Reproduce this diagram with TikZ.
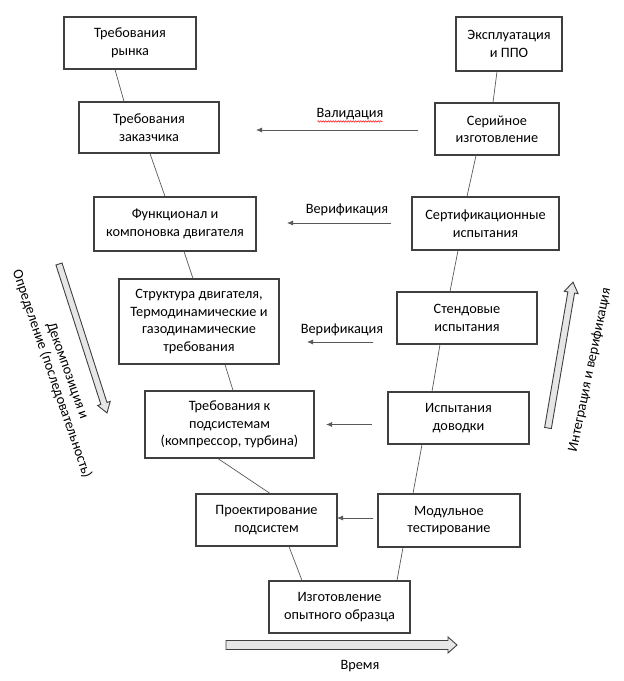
\documentclass[tikz,border=0pt]{standalone}
\usepackage{fontspec}
\setmainfont{Carlito}
\usetikzlibrary{arrows.meta,calc,decorations.pathmorphing}
\definecolor{boxline}{HTML}{3F3F3F}
\definecolor{conn}{HTML}{595959}
\definecolor{barfill}{HTML}{E6E6E6}
\begin{document}
\begin{tikzpicture}[x=1pt,y=1pt,
  every node/.style={font=\fontsize{14.3}{17.5}\selectfont, text=black},
  box/.style={draw=boxline, line width=1.2pt, fill=white, align=center, inner sep=1pt},
  link/.style={draw=conn, line width=0.7pt},
  flow/.style={draw=conn, line width=0.8pt, -{Latex[length=6pt,width=5pt]}},
  lbl/.style={inner sep=0pt},
  barrow/.style={draw=boxline, line width=0.9pt, fill=barfill, line join=miter}
]
\useasboundingbox (0,0) rectangle (624,-681);

% left column
\node[box, minimum width=132, minimum height=52] (L1) at (130,-43) {Требования\\рынка};
\node[box, minimum width=140, minimum height=51] (L2) at (149,-127.5) {Требования\\заказчика};
\node[box, minimum width=162, minimum height=54] (L3) at (175,-224) {Функционал и\\компоновка двигателя};
\node[box, minimum width=160, minimum height=85] (L4) at (199,-321.5) {Структура двигателя,\\Термодинамические и\\газодинамические\\требования};
\node[box, minimum width=169, minimum height=67] (L5) at (229.5,-424.5) {Требования к\\подсистемам\\(компрессор, турбина)};
\node[box, minimum width=141, minimum height=52] (L6) at (266.5,-520) {Проектирование\\подсистем};
\node[box, minimum width=141, minimum height=52] (B) at (339.5,-607) {Изготовление\\опытного образца};

% right column
\node[box, minimum width=106, minimum height=54] (R1) at (509,-44) {Эксплуатация\\и ППО};
\node[box, minimum width=124, minimum height=52] (R2) at (497,-129) {Серийное\\изготовление};
\node[box, minimum width=147, minimum height=53] (R3) at (485.5,-223.5) {Сертификационные\\испытания};
\node[box, minimum width=140, minimum height=52] (R4) at (467,-318) {Стендовые\\испытания};
\node[box, minimum width=141, minimum height=52] (R5) at (458.5,-418) {Испытания\\доводки};
\node[box, minimum width=142, minimum height=53] (R6) at (449,-520.5) {Модульное\\тестирование};

% V links
\draw[link] ([xshift=-15pt]L1.south) -- ([xshift=-25pt]L2.north);
\draw[link] ([xshift=1pt]L2.south) -- ([xshift=-10pt]L3.north);
\draw[link] ([xshift=9pt]L3.south) -- ([xshift=-6pt]L4.north);
\draw[link] ([xshift=26pt]L4.south) -- ([xshift=3.5pt]L5.north);
\draw[link] ([xshift=-11.5pt]L5.south) -- ([xshift=3.5pt]L6.north);
\draw[link] ([xshift=22.5pt]L6.south) -- ([xshift=-37.5pt]B.north);
\draw[link] ([xshift=-12pt]R1.south) -- ([xshift=-4pt]R2.north);
\draw[link] ([xshift=-21pt]R2.south) -- ([xshift=-18.5pt]R3.north);
\draw[link] ([xshift=-27.5pt]R3.south) -- ([xshift=-17pt]R4.north);
\draw[link] ([xshift=-27pt]R4.south) -- ([xshift=-26.5pt]R5.north);
\draw[link] ([xshift=-36.5pt]R5.south) -- ([xshift=-36pt]R6.north);
\draw[link] ([xshift=-46pt]R6.south) -- ([xshift=57.5pt]B.north);

% horizontal arrows
\coordinate (v1s) at (418,-130); \coordinate (v1e) at (256,-130);
\coordinate (v2s) at (391,-223); \coordinate (v2e) at (287,-223);
\coordinate (v3s) at (373,-342); \coordinate (v3e) at (307,-342);
\coordinate (v4s) at (372,-424.5); \coordinate (v4e) at (326,-424.5);
\coordinate (v5s) at (373,-518); \coordinate (v5e) at (337,-518);
\draw[flow] (v1s) -- (v1e);
\draw[flow] (v2s) -- (v2e);
\draw[flow] (v3s) -- (v3e);
\draw[flow] (v4s) -- (v4e);
\draw[flow] (v5s) -- (v5e);

\node[lbl] (val) at (350,-114) {Валидация};
\draw[red, line width=0.5pt, decorate, decoration={snake, amplitude=0.7pt, segment length=2.5pt}]
  ([xshift=1pt,yshift=-1.5pt]val.south west) -- ([xshift=-1pt,yshift=-1.5pt]val.south east);
\node[lbl] (ver1) at (347,-210) {Верификация};
\node[lbl] (ver2) at (342,-330) {Верификация};
\node[lbl] (time) at (360,-666) {Время};

% block arrows
\coordinate (la) at (59,-264);
\begin{scope}[shift={(la)}, rotate=-72.14]
  \draw[barrow] (0,3.2) -- (146.5,3.2) -- (146.5,6.6) -- (156.5,0) -- (146.5,-6.6) -- (146.5,-3.2) -- (0,-3.2) -- cycle;
\end{scope}
\coordinate (ra) at (548,-428);
\begin{scope}[shift={(ra)}, rotate=80.28]
  \draw[barrow] (0,3.4) -- (137.5,3.4) -- (137.5,7) -- (148,0) -- (137.5,-7) -- (137.5,-3.4) -- (0,-3.4) -- cycle;
\end{scope}
\coordinate (ba) at (226,-645);
\begin{scope}[shift={(ba)}]
  \draw[barrow] (0,4.5) -- (222,4.5) -- (222,8) -- (231,0) -- (222,-8) -- (222,-4.5) -- (0,-4.5) -- cycle;
\end{scope}

% rotated labels
\node[lbl, rotate=-70.5] (dec1) at (67,-371) {Декомпозиция и};
\node[lbl, rotate=-71] (dec2) at (52,-374) {Определение (последовательность)};
\node[lbl, rotate=78.3] (int) at (590,-370) {Интеграция и верификация};
\end{tikzpicture}
\end{document}
